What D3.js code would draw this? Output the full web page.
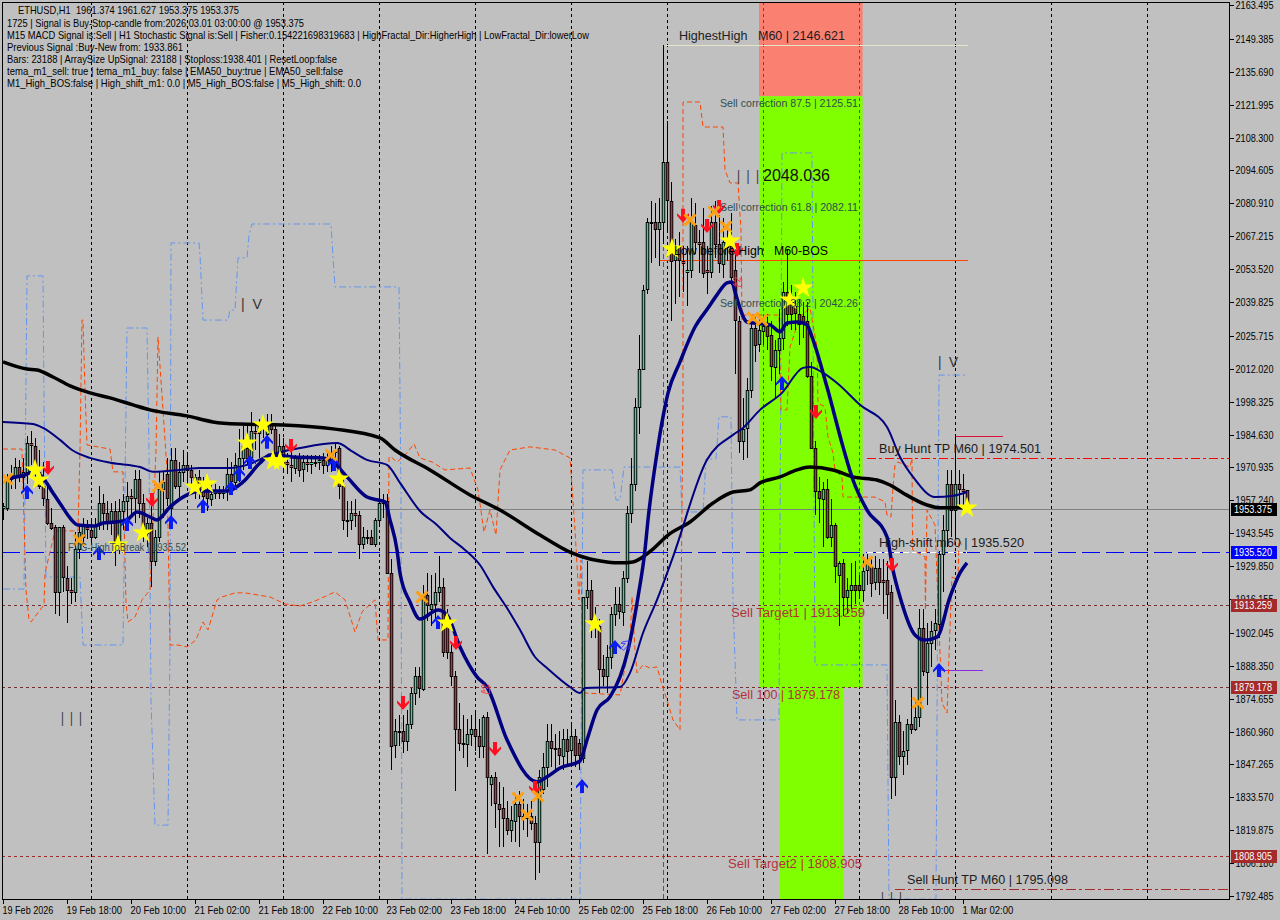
<!DOCTYPE html>
<html><head><meta charset="utf-8">
<script src="https://cdn.jsdelivr.net/npm/d3@7/dist/d3.min.js"></script>
<style>html,body{margin:0;padding:0;background:#c0c0c0;overflow:hidden}svg{display:block}text{font-family:"Liberation Sans",Arial,sans-serif}</style>
</head><body><svg id="c" width="1280" height="920"></svg>
<script>
const opens=[1954,1954,1966,1967,1971,1967,1969,1981,1980,1969,
1963,1958,1948,1946,1919,1946,1925,1920,1919,1937,
1942,1946,1945,1942,1947,1956,1952,1948,1953,1940,
1953,1957,1959,1958,1966,1956,1944,1948,1932,1942,
1962,1968,1954,1974,1963,1969,1972,1970,1964,1967,
1961,1961,1958,1960,1961,1960,1961,1968,1965,1970,
1975,1979,1975,1986,1985,1988,1985,1989,1987,1977,
1980,1973,1972,1971,1975,1970,1973,1972,1973,1973,
1974,1972,1973,1977,1979,1963,1949,1949,1952,1951,
1939,1942,1942,1939,1949,1956,1957,1927,1855,1861,
1861,1857,1864,1877,1884,1879,1918,1912,1914,1919,
1921,1906,1894,1884,1862,1856,1856,1860,1862,1859,
1855,1867,1839,1842,1831,1829,1825,1820,1824,1831,
1826,1825,1826,1823,1815,1837,1846,1857,1854,1854,
1851,1858,1853,1859,1856,1850,1917,1920,1908,1905,
1887,1884,1892,1910,1914,1911,1925,1952,1964,1996,
2012,2045,2073,2073,2070,2073,2098,2082,2057,2063,
2057,2052,2053,2072,2065,2065,2053,2052,2073,2064,
2056,2065,2063,2053,2032,1982,1987,2003,2029,2022,
2028,2030,2026,2013,2020,2025,2044,2040,2038,2035,
2034,2032,2009,1979,1961,1958,1962,1942,1947,1926,
1931,1917,1920,1922,1922,1920,1928,1930,1923,1929,
1924,1924,1919,1842,1865,1851,1853,1864,1862,1867,
1904,1886,1898,1903,1906,1935,1945,1964,1953,1964,1962,1961.374];
const highs=[1956,1968,1972,1975,1974,1975,1984,1986,1983,1978,
1973,1963,1954,1947,1946,1947,1930,1925,1944,1947,
1950,1949,1949,1950,1963,1960,1957,1956,1957,1958,
1960,1965,1962,1970,1970,1960,1950,1955,1945,1969,
1969,1975,1979,1979,1973,1978,1976,1972,1968,1970,
1967,1965,1965,1964,1963,1963,1975,1973,1977,1987,
1988,1988,1994,1989,1991,1992,1993,1993,1989,1985,
1983,1977,1978,1976,1977,1976,1976,1976,1976,1976,
1977,1977,1980,1981,1980,1966,1957,1957,1958,1953,
1946,1945,1945,1950,1962,1960,1960,1933,1866,1868,
1868,1870,1879,1888,1888,1922,1927,1926,1927,1934,
1925,1912,1897,1886,1873,1868,1866,1868,1869,1866,
1868,1869,1843,1844,1840,1838,1832,1830,1834,1836,
1833,1831,1832,1826,1845,1852,1864,1864,1860,1861,
1862,1862,1864,1862,1858,1917,1932,1924,1913,1908,
1893,1897,1913,1921,1921,1928,1955,1975,2000,2026,
2047,2075,2082,2081,2083,2147,2115,2090,2066,2069,
2063,2063,2083,2081,2070,2079,2063,2080,2082,2076,
2075,2072,2077,2060,2034,2000,2008,2033,2034,2034,
2033,2035,2032,2024,2037,2048,2062,2047,2044,2041,
2040,2040,2015,1982,1967,1965,1966,1958,1948,1932,
1933,1925,1931,1932,1926,1935,1935,1934,1934,1933,
1933,1932,1922,1874,1868,1861,1866,1879,1874,1912,
1912,1906,1907,1912,1936,1951,1970,1970,1984,1970,1968,1961.627];
const lows=[1949,1953,1962,1962,1965,1962,1964,1972,1965,1962,
1955,1947,1945,1910,1909,1919,1906,1914,1915,1933,
1938,1941,1940,1941,1945,1945,1945,1943,1930,1935,
1945,1950,1950,1948,1950,1940,1938,1921,1930,1940,
1950,1955,1950,1962,1958,1965,1965,1963,1958,1958,
1955,1953,1955,1958,1958,1958,1957,1960,1962,1965,
1970,1972,1973,1978,1975,1983,1980,1985,1976,1973,
1970,1968,1965,1968,1967,1965,1969,1968,1971,1970,
1968,1969,1969,1972,1958,1945,1942,1945,1946,1933,
1937,1939,1939,1938,1947,1950,1927,1845,1850,1855,
1852,1853,1862,1872,1875,1878,1907,1905,1908,1915,
1892,1891,1880,1836,1853,1850,1846,1855,1853,1850,
1850,1810,1830,1821,1813,1813,1818,1815,1815,1813,
1820,1817,1820,1799,1802,1835,1838,1846,1845,1847,
1845,1846,1848,1846,1845,1848,1912,1900,1900,1877,
1880,1877,1887,1905,1908,1905,1923,1948,1961,1985,
2012,2043,2056,2058,2055,2064,2070,2032,2039,2042,
2044,2038,2050,2060,2052,2050,2043,2050,2058,2052,
2050,2057,2047,2010,1977,1974,1975,2000,2015,2019,
2022,2020,2007,2000,2010,2020,2030,2028,2028,2022,
2025,2008,1979,1951,1948,1938,1941,1938,1923,1905,
1909,1910,1912,1914,1916,1915,1922,1917,1920,1918,
1910,1908,1833,1834,1847,1843,1847,1860,1861,1863,
1884,1872,1888,1895,1900,1919,1938,1942,1942,1955,1955,1953.375];
const closes=[1955,1966,1968,1971,1967,1969,1981,1980,1969,1963,
1958,1948,1946,1919,1946,1925,1920,1919,1937,1944,
1947,1945,1942,1947,1956,1952,1948,1953,1940,1953,
1957,1959,1958,1966,1956,1944,1948,1932,1942,1962,
1965,1958,1974,1963,1969,1972,1970,1967,1967,1961,
1959,1958,1960,1961,1960,1961,1968,1965,1972,1975,
1980,1975,1986,1985,1988,1987,1989,1987,1977,1980,
1973,1972,1971,1975,1970,1973,1972,1973,1973,1974,
1972,1975,1977,1978,1963,1949,1949,1952,1951,1939,
1942,1942,1939,1949,1956,1957,1927,1855,1861,1861,
1857,1864,1877,1884,1879,1918,1914,1914,1919,1921,
1894,1894,1884,1862,1856,1856,1860,1862,1859,1855,
1867,1842,1842,1831,1829,1825,1820,1824,1831,1826,
1825,1826,1823,1815,1842,1846,1857,1854,1854,1851,
1858,1853,1859,1851,1851,1917,1920,1908,1905,1887,
1884,1892,1910,1914,1911,1925,1952,1964,1996,2012,
2045,2073,2073,2070,2073,2098,2082,2057,2063,2057,
2056,2053,2073,2065,2064,2052,2052,2073,2064,2056,
2065,2063,2050,2032,1982,1987,2003,2029,2022,2028,
2030,2026,2013,2020,2025,2044,2035,2035,2035,2031,
2031,2009,1979,1961,1958,1962,1942,1947,1930,1931,
1917,1920,1922,1920,1920,1928,1931,1923,1929,1923,
1923,1918,1842,1865,1851,1853,1864,1862,1867,1904,
1886,1898,1903,1906,1935,1945,1964,1953,1964,1962,1961,1953.375];

const priceTicks=[2163.495,2149.385,2135.690,2121.995,2108.300,2094.605,2080.910,2067.215,2053.520,2039.825,2025.715,2012.020,1998.325,1984.630,1970.935,1957.240,1943.545,1929.850,1916.155,1902.045,1888.350,1874.655,1860.960,1847.265,1833.570,1819.875,1806.180,1792.485];
const timeTickBars=[0,16,32,48,64,80,96,112,128,144,160,176,192,208,224,240];
const timeTickLabels=["19 Feb 2026","19 Feb 18:00","20 Feb 10:00","21 Feb 02:00","21 Feb 18:00","22 Feb 10:00","23 Feb 02:00","23 Feb 18:00","24 Feb 10:00","25 Feb 02:00","25 Feb 18:00","26 Feb 10:00","27 Feb 02:00","27 Feb 18:00","28 Feb 10:00","1 Mar 02:00"];
const midnightBars=[22,46,70,94,118,142,166,190,214,238,262,286];

const temaBars=[1.75,5.5,7.5,10,12.5,15,16.75,18.75,23,25,28,31,33.5,36.75,38.5,41.75,46,49.25,56,60,64.25,66.75,72.5,80,82.5,86,91,93.75,95.5,96.75,98.5,99.25,101.75,104.25,108.75,111,114.25,118.5,121,126,133.5,136,139.25,144.25,146,148.5,151.75,154.25,156.25,158.75,160.5,161.25,163.5,165,166.25,169.25,173,176.25,178.5,181,182.25,183,186,187.5,191.75,194.25,196,198.75,201,202.25,206,210,212.5,216,221,222.5,224.25,228,230.5,233.5,236.75,239.25,241];
const temaPrices=[1966.6,1967.8,1969.1,1966.6,1960.3,1954.1,1949.9,1947,1946.6,1947.8,1948.2,1949.1,1952.4,1950.3,1949.1,1954.5,1959.5,1961.1,1961.1,1964.9,1972.8,1976.1,1975.3,1974.9,1973.2,1967,1958.6,1957.4,1956.6,1949.1,1936.6,1927,1914.9,1907.8,1911.6,1909.5,1896.2,1883.7,1879.5,1857.5,1840,1842.1,1845.8,1848.7,1857.5,1869.9,1875.4,1883.7,1894.9,1917,1936.6,1949.1,1977,1992,2001.9,2014.9,2029.4,2037.3,2042.8,2047.8,2048.2,2044,2031.5,2031.1,2030.3,2027.4,2031.1,2031.5,2030.3,2025.3,2004.4,1979.5,1965.7,1953.2,1942,1928.2,1917,1901.2,1899.1,1900.3,1917,1927,1931.2];

const ema50Bars=[0,7.5,10,14.25,17.25,21.75,27.25,34.25,37.5,44.25,49.25,56.75,61,66.75,74.25,83.5,87.5,91,96,99.25,104.25,108.5,111.75,115.5,119.25,122.5,126,129.25,133,136,141.75,144.25,145.5,154.25,156.75,160,163.5,167.5,176,182.5,185,189.25,194.75,200,201.75,205,208.5,214.25,221,224.25,227.5,233,237.5,241];
const ema50Prices=[1989.9,1989,1987.4,1982.4,1978.2,1974.9,1972.8,1971.1,1969.1,1969.9,1970.7,1970.7,1972,1976.1,1979,1981.1,1977.4,1974.1,1972,1964.5,1952.8,1947,1941.6,1936.6,1930.3,1921.2,1912.4,1903.3,1892,1887.4,1879.5,1877,1879.1,1879.5,1885.4,1902,1915.8,1933.7,1974.1,1984.5,1987.4,1994.9,2002,2012.4,2012.8,2010.3,2006.1,1997,1987.8,1975.3,1967,1958.6,1959.1,1960.7];

const ema200Bars=[0,6,8.5,12.5,16.75,21.75,26.75,32.5,36.75,46,52.5,59.25,70,82.5,94.25,98,106.75,116.75,124.25,134.25,141.75,146.75,151,154.25,157.5,162.25,166.25,171.75,177.5,182.5,186.75,189.25,194.25,198.5,201.75,207.5,212.5,218.5,221.75,225,231,234.25,241];
const ema200Prices=[2014.9,2011.9,2011.5,2008.6,2004.9,2002,1999.9,1997,1994.9,1992.4,1989.9,1989,1988.6,1987,1983.2,1978.2,1969.9,1959.5,1953.2,1942.8,1935.7,1932.8,1931.6,1931.2,1931.6,1936.6,1942.8,1948.2,1956.1,1960.7,1961.6,1964.5,1967,1969.9,1971.1,1969.9,1967,1965.7,1963.6,1960.3,1955.3,1954.1,1954.1];

const fractalHighBars=[0,5.25,6,10,10.25,10.75,19.25,20,30,31,36,36.5,37,38,41.25,41.75,42,49,49.25,50,56.25,56.75,58,58.75,61,61.5,62.25,82,82.5,83,99,99.5,99.75,144.25,145,152.25,153.25,154.25,155.25,169.25,169.75,175,175.75,178.25,179,182,182.5,183.5,194,194.75,202.25,203,221,221.5,233.25,234,241];
const fractalHighPrices=[1920.3,1920.3,2050.7,2050.7,1999,1925.3,1925.3,1897,1897,2029,2029,1978.2,1874,1822,1822,1897,2064.4,2064.4,2059.4,2032.3,2032.3,2036.5,2036.5,2058.2,2058.2,2067.7,2072.3,2072.3,2058.6,2046.1,2046.1,1957.4,1791.2,1791.2,1969.9,1969.9,1957.4,1957.4,1971.1,1971.1,1952.4,1952.4,1974.5,1974.5,1992,1992,1915.8,1865.8,1865.8,2101.9,2101.9,1888.7,1888.7,1791.2,1791.2,2009.4,2009.4];

const fractalLowBars=[0,4.75,5.75,6.5,7,10.25,10.5,13,18.75,19.25,19.75,20,20.5,21,26.75,27.5,30,30.75,31.25,33,34.75,36.75,38.25,38.75,39.75,41,41.75,43.75,46,48.25,50,51.25,53.5,54.75,58,60.5,66.75,70.5,74.25,78,83,85.5,88,89.75,93,93.75,96.25,96.5,97,98.5,100.5,102.75,104.25,107.25,110.5,116.75,118.75,120.25,121.75,123.25,124.25,126.75,131.75,138,141.75,143,144,144.5,145,145.5,154.25,155.5,156.75,157.25,158,158.5,160,161.75,163.5,164.75,166,167.5,169.25,169.4,170,170.01,174.25,175,180,180.5,181.75,183.75,184.5,184.75,185,194,194.5,196,196.75,199.25,201.75,203.5,203.75,205.5,206.25,207.5,208,209.75,210,218,220.5,221,222,222.5,223,223.75,226.75,227.25,227.4,230.5,230.6,231,233,234.25,234.75,236,236.25,236.75,237.25,238.75,239,240];
const fractalLowPrices=[1978.6,1978.6,1919.9,1907.4,1906.6,1913.7,1927,1944.5,1944.5,1978.2,2032.3,2032.3,2003.2,1980.3,1978.6,1969.1,1969.1,1914.5,1906.6,1908.7,1915.8,1919.9,1978.2,2025.3,2001,1969.9,1897,1897,1896.2,1899.1,1906.6,1903.3,1915.8,1917,1918.7,1918.7,1917,1914.1,1913.2,1915.3,1919.1,1915.8,1902.4,1910.8,1915.8,1899.1,1899.1,1975.3,1975.3,1973.2,1976.1,1980.7,1974.9,1973.2,1969.9,1970.7,1961.6,1944,1953.2,1942.8,1969.9,1978.2,1979.5,1978.2,1974.9,1945,1915.8,1932.4,1877,1877,1876.2,1887.9,1899.1,1917,1894.9,1885.4,1888.7,1887.4,1887.9,1880.4,1874,1865.8,1861.6,1893.7,1999,2123.1,2123.1,2112.7,2112.7,2094.8,2089.4,2089.4,2069.8,2032.3,2034.4,2034.4,1994.9,1994.9,2021.1,2033.6,2037.3,2021.1,1997.8,1996.1,1983.6,1977,1969.9,1967,1958.6,1958.6,1956.6,1951.1,1950.3,1962.8,1972,1973.2,1971.1,1974.9,1936.6,1933.7,1911.6,1953.2,1947,1893.7,1872.9,1868.7,1879.5,1904.5,1925.3,1924.1,1940.7,1937.8];

const buyArrowBars=[6,24,31,42,50,57,59,61.75,66,82.75,108.75,153,144.75,194.75,234];
const buyArrowPrices=[1960.7,1935.3,1947.4,1948.2,1954.9,1962.4,1968.2,1973.2,1981.6,1972.4,1906.6,1896.2,1838.3,2006.1,1886.6];
const sellArrowBars=[11.25,37.25,72,100,113.25,123,133,170,176,179,183.5,203.25,222.25];
const sellArrowPrices=[1970.7,1957.4,1979.9,1872.9,1897.8,1853.7,1837.5,2075.7,2071.5,2079.4,2061.5,1994,1930.3];
const crossBars=[1,19,38.75,82,104.75,128.75,131,133.75,171.75,177.75,180.75,187.5,189.75,216,228.75];
const crossPrices=[1966.1,1940.7,1963.2,1976.1,1917,1833.3,1826.2,1834.1,2074,2077.3,2071.1,2033.2,2032.3,1931.6,1872.9];
const starBars=[8,9,28.75,35,48,51,61,65,67.5,69.25,84,111,148,167.25,181.75,196.75,200,241];
const starPrices=[1969.9,1965.7,1938.7,1943.7,1962.8,1964.1,1981.1,1988.6,1973.6,1973.6,1966.1,1906.2,1905.8,2061.9,2065.2,2040.7,2045.7,1954.1];
const hollowSellBars=[120.75,183.75];
const hollowSellPrices=[1878.5,2048];
const hollowBuyBars=[155];
const hollowBuyPrices=[1897];

const infoLines=["ETHUSD,H1  1961.374 1961.627 1953.375 1953.375","1725 | Signal is Buy-Stop-candle from:2026.03.01 03:00:00 @ 1953.375","M15 MACD Signal is:Sell | H1 Stochastic Signal is:Sell | Fisher:0.154221698319683 | HighFractal_Dir:HigherHigh | LowFractal_Dir:lowerLow","Previous Signal :Buy-New from: 1933.861","Bars: 23188 | ArraySize UpSignal: 23188 | Stoploss:1938.401 | ResetLoop:false","tema_m1_sell: true | tema_m1_buy: false | EMA50_buy:true | EMA50_sell:false","M1_High_BOS:false | High_shift_m1: 0.0 | M5_High_BOS:false | M5_High_shift: 0.0"];
const priceTags=[1953.375,1935.520,1913.259,1879.178,1808.905];
const priceTagColors=["#000000","#0000ff","#a52a2a","#a52a2a","#a52a2a"];

const svg=d3.select("#c");
const L=2,T=2,R=1229,B=899;
const x=d3.scaleLinear().domain([0,241]).range([3,967]);
const y=d3.scaleLinear().domain([1792.485,2163.495]).range([896,5]);

svg.append("rect").attr("width",1280).attr("height",920).attr("fill","#c0c0c0");
svg.append("defs").append("clipPath").attr("id","plot").append("rect").attr("x",L).attr("y",T).attr("width",R-L).attr("height",B-T);
const g=svg.append("g").attr("clip-path","url(#plot)");

// zones
const zone=(b0,b1,p0,p1,c)=>g.append("rect").attr("x",x(b0)).attr("width",x(b1)-x(b0)).attr("y",y(p0)).attr("height",y(p1)-y(p0)).attr("fill",c);
zone(189,214.9,2170,2125.51,"#fa8072");
zone(189,214.9,2125.51,1879.178,"#7fff00");
zone(194.25,210,1879.178,1785,"#7fff00");

// grid
midnightBars.forEach(b=>{
  g.append("line").attr("x1",x(b)).attr("x2",x(b)).attr("y1",T).attr("y2",B).attr("stroke","#000").attr("stroke-dasharray","3,3").attr("shape-rendering","crispEdges");
});
[190,214].forEach(b=>{
  g.append("line").attr("x1",x(b)).attr("x2",x(b)).attr("y1",T).attr("y2",y(1879.178)).attr("stroke","#80307a").attr("stroke-dasharray","3,3").attr("shape-rendering","crispEdges");
});
g.append("line").attr("x1",x(165)).attr("x2",x(165)).attr("y1",y(2146.621)).attr("y2",B).attr("stroke","#c71585").attr("stroke-dasharray","5,3").attr("shape-rendering","crispEdges");

// levels
const hl=(p,b0,b1,c,d)=>{const r=Math.round(y(p)-.5)+.5;return g.append("line").attr("x1",b0===null?L:x(b0)).attr("x2",b1===null?R:x(b1)).attr("y1",r).attr("y2",r).attr("stroke",c).attr("stroke-dasharray",d||null).attr("shape-rendering","crispEdges");};
hl(1953.375,null,null,"#808080");
hl(1935.52,null,null,"#0000ff","18,6");
hl(1935.52,216,241,"#ffffff","6,3");
hl(1913.259,null,null,"#7a3030","3,3");
hl(1879.178,null,null,"#7a3030","3,3");
hl(1808.905,null,null,"#a02a2a","3,3");
hl(1795.098,223,null,"#a52a2a","10,3,3,3");
hl(1974.501,216,null,"#ff0000","9,3,3,3");
hl(1984,238,250,"#dc143c");
hl(2146.621,165.5,241.25,"#e4e4c8");
hl(2057.3,164.25,241.25,"#ff4500");
hl(1886.5,234,245,"#8a2be2");

// fractal channels
const lineG=d3.line().x(d=>x(d[0])).y(d=>y(d[1]));
const zip=(a,b)=>a.map((v,i)=>[v,b[i]]);
g.append("path").attr("d",lineG(zip(fractalHighBars,fractalHighPrices))).attr("fill","none").attr("stroke","#6495ed").attr("stroke-width",1).attr("stroke-dasharray","7,3,2,3");
g.append("path").attr("d",lineG(zip(fractalLowBars,fractalLowPrices))).attr("fill","none").attr("stroke","#ff4500").attr("stroke-width",1).attr("stroke-dasharray","5,3");

// candles
const idx=d3.range(opens.length);
const cg=g.append("g");
cg.selectAll("line").data(idx).join("line").attr("shape-rendering","crispEdges")
 .attr("x1",i=>Math.round(x(i))+.5).attr("x2",i=>Math.round(x(i))+.5)
 .attr("y1",i=>y(highs[i])).attr("y2",i=>y(lows[i])).attr("stroke","#000");
cg.selectAll("rect").data(idx).join("rect")
 .attr("x",i=>Math.round(x(i))+.5-1.25).attr("width",2.5)
 .attr("y",i=>Math.round(y(Math.max(opens[i],closes[i])))+.5)
 .attr("height",i=>Math.max(1,Math.round(Math.abs(y(opens[i])-y(closes[i])))))
 .attr("fill",i=>closes[i]>=opens[i]?"#2fdc92":"#c02e3c").attr("stroke","#000");

// averages
const ln=d3.line().curve(d3.curveMonotoneX).x(d=>x(d[0])).y(d=>y(d[1]));
g.append("path").attr("d",ln(zip(ema200Bars,ema200Prices))).attr("fill","none").attr("stroke","#000").attr("stroke-width",3.5);
g.append("path").attr("d",ln(zip(ema50Bars,ema50Prices))).attr("fill","none").attr("stroke","#000080").attr("stroke-width",2);
g.append("path").attr("d",ln(zip(temaBars,temaPrices))).attr("fill","none").attr("stroke","#000080").attr("stroke-width",3.5);

// markers
const upArrow="M0,-7L6,0L6,2.5L2,-1L2,7L-2,7L-2,-1L-6,2.5L-6,0Z";
const dnArrow="M0,7L6,0L6,-2.5L2,1L2,-7L-2,-7L-2,1L-6,-2.5L-6,0Z";
g.selectAll(".buy").data(zip(buyArrowBars,buyArrowPrices)).join("path").attr("class","buy").attr("d",upArrow).attr("fill","#0b1df0").attr("transform",d=>`translate(${x(d[0])},${y(d[1])})`);
g.selectAll(".sell").data(zip(sellArrowBars,sellArrowPrices)).join("path").attr("class","sell").attr("d",dnArrow).attr("fill","#ff0f1f").attr("transform",d=>`translate(${x(d[0])},${y(d[1])})`);
g.selectAll(".hs").data(zip(hollowSellBars,hollowSellPrices)).join("path").attr("class","hs").attr("d",dnArrow).attr("fill","none").attr("stroke","#ff3030").attr("transform",d=>`translate(${x(d[0])},${y(d[1])}) rotate(-40) scale(.8)`);
g.selectAll(".hb").data(zip(hollowBuyBars,hollowBuyPrices)).join("path").attr("class","hb").attr("d",upArrow).attr("fill","none").attr("stroke","#3030ff").attr("transform",d=>`translate(${x(d[0])+3},${y(d[1])}) rotate(40) scale(.8)`);
g.selectAll(".cross").data(zip(crossBars,crossPrices)).join("path").attr("class","cross").attr("d","M-5.5,-5.5L5.5,5.5M5.5,-5.5L-5.5,5.5").attr("fill","none").attr("stroke","#ffa010").attr("stroke-width",3).attr("transform",d=>`translate(${x(d[0])},${y(d[1])})`);
const star=d3.symbol().type(d3.symbolStar).size(140)();
g.selectAll(".star").data(zip(starBars,starPrices)).join("path").attr("class","star").attr("d",star).attr("fill","#ffff00").attr("transform",d=>`translate(${x(d[0])},${y(d[1])})`);

// text helper
function label(t,x0,yy,w,size,color,parent){
  const s=(parent||g).append("text").attr("x",x0).attr("y",yy).text(t).attr("font-size",size).attr("fill",color);
  if(w) s.attr("textLength",w).attr("lengthAdjust","spacingAndGlyphs");
  return s;
}
const dk="#2f4f4f", br="#b2323c", ink="#1c1c1c", thin="#333333";
label("HighestHigh   M60 | 2146.621",679,39.5,166,12.5,ink).attr("xml:space","preserve");
label("Sell correction 87.5 | 2125.51",720,107,138,11.5,dk);
label("|  |  |",737,181,22,14,thin).attr("xml:space","preserve");
label("2048.036",763,181,67,16,"#111");
label("Sell correction 61.8 | 2082.11",720,211,138,11.5,dk);
label("Low before High   M60-BOS",674,255,154,12.5,"#000").attr("xml:space","preserve");
label("Sell correction 38.2 | 2042.26",720,307,138,11.5,dk);
label("|  V",241,309,21,14,thin).attr("xml:space","preserve");
label("|  V",938,367,20,14,thin).attr("xml:space","preserve");
label("|  |  |",61,723,21,14,thin).attr("xml:space","preserve");
label("|  |  |",881,903,21,14,thin).attr("xml:space","preserve");
label("Buy Hunt TP M60 | 1974.501",879,453,162,12.5,ink);
label("High-shift m60 | 1935.520",879,547,145,12.5,ink);
label("Sell Target1 | 1913.259",731,617,134,12.5,br);
label("Sell 100 | 1879.178",732,699,108,12.5,br);
label("Sell Target2 | 1808.905",728,868,134,12.5,br);
label("Sell Hunt TP M60 | 1795.098",907,884,161,12.5,ink);
label("FVG-HighToBreak | 1935.52",68,551,118,11,dk);

// info
const infoX=[18,7,7,7,7,7,7], infoW=[221,297,582,176,330,336,354], infoY=[14,27,39,51,63,75,87];
infoLines.forEach((t,i)=>label(t,infoX[i],infoY[i],infoW[i],11,"#000").attr("xml:space","preserve"));

// frame and axes
svg.append("rect").attr("x",L+.5).attr("y",T+.5).attr("width",R-L).attr("height",B-T).attr("fill","none").attr("stroke","#000").attr("shape-rendering","crispEdges");
const ya=svg.append("g").attr("transform",`translate(${R+.5},0)`).call(d3.axisRight(y).tickValues(priceTicks).tickSize(4).tickPadding(2).tickFormat(d3.format(".3f")));
ya.select(".domain").remove();
ya.selectAll("text").attr("font-size",11).attr("fill","#000").attr("textLength",38).attr("lengthAdjust","spacingAndGlyphs").attr("font-family","Liberation Sans");
ya.selectAll("line").attr("shape-rendering","crispEdges");
const xa=svg.append("g").attr("transform",`translate(0,${B+.5})`).call(d3.axisBottom(x).tickValues(timeTickBars).tickSize(4).tickFormat((d,i)=>timeTickLabels[i]));
xa.select(".domain").remove();
xa.selectAll("text").attr("font-size",11).attr("fill","#000").attr("text-anchor","start").attr("x",-1).attr("y",7).attr("dy",".71em")
  .attr("textLength",function(){return this.textContent.length*4.62}).attr("lengthAdjust","spacingAndGlyphs").attr("font-family","Liberation Sans");
xa.selectAll("line").attr("shape-rendering","crispEdges");

// price tags
priceTags.forEach((p,i)=>{
  const yy=Math.round(y(p)-.5);
  svg.append("rect").attr("x",1231).attr("y",yy-6).attr("width",46).attr("height",13).attr("fill",priceTagColors[i]);
  label(d3.format(".3f")(p),1234,yy+4,38,11,"#fff",svg);
});
</script></body></html>
